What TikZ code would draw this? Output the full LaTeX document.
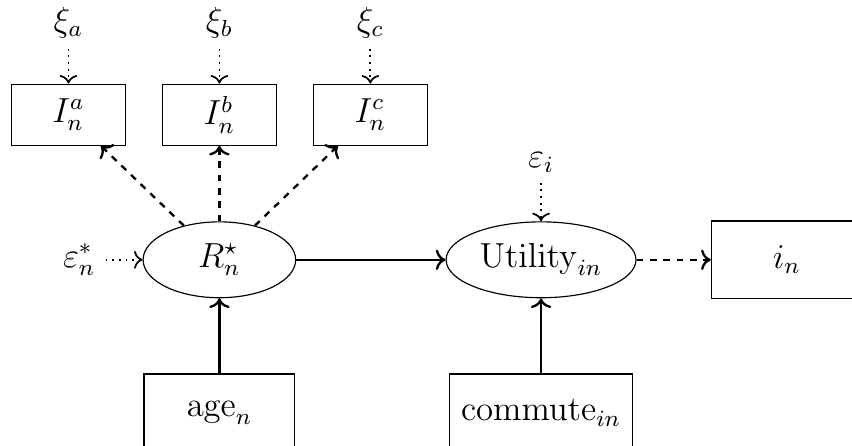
\documentclass[tikz,border=0pt]{standalone}
\usetikzlibrary{arrows.meta,shapes.geometric}
\tikzset{
    box/.style={draw, minimum width=1.38cm, minimum height=0.74cm,
                inner sep=4pt, align=center},
    obs/.style={box, minimum width=1.83cm, minimum height=0.94cm},
    latent/.style={ellipse, draw, minimum height=0.92cm, inner sep=2pt},
    flow/.style={->, thick},
    measure/.style={flow, dash pattern=on 2.3pt off 2.3pt},
    noise/.style={->, semithick, dash pattern=on 0.6pt off 1.7pt},
}
\begin{document}
\begin{tikzpicture}[font=\large]

    \useasboundingbox (-2.66,-2.254) rectangle (7.67,3.15);

    \node[latent, minimum width=1.85cm] (R) at (0,0) {$R^{\star}_n$};
    \node[latent, minimum width=2.29cm] (U) at (3.9,0) {$\mathrm{Utility}_{in}$};
    \node[obs] (choice) at (6.88,0) {$i_n$};

    \node[box] (Ia) at (-1.83,1.76) {$I^a_n$};
    \node[box] (Ib) at (0,1.76) {$I^b_n$};
    \node[box] (Ic) at (1.83,1.76) {$I^c_n$};

    \node (xia) at (-1.83,2.87) {$\xi_a$};
    \node (xib) at (0,2.87) {$\xi_b$};
    \node (xic) at (1.83,2.87) {$\xi_c$};

    \node (epsR) at (-1.70,0) {$\varepsilon^*_n$};
    \node (epsU) at (3.9,1.18) {$\varepsilon_i$};

    \node[obs] (age) at (0,-1.855) {$\mathrm{age}_n$};
    \node[obs, minimum width=2.02cm] (commute) at (3.9,-1.855) {$\mathrm{commute}_{in}$};

    \draw[noise] (xia) -- (Ia);
    \draw[noise] (xib) -- (Ib);
    \draw[noise] (xic) -- (Ic);
    \draw[noise] (epsR) -- (R);
    \draw[noise] (epsU) -- (U);

    \draw[measure] (R) -- (Ia);
    \draw[measure] (R) -- (Ib);
    \draw[measure] (R) -- (Ic);
    \draw[measure] (U) -- (choice);

    \draw[flow] (R) -- (U);
    \draw[flow] (age) -- (R);
    \draw[flow] (commute) -- (U);

\end{tikzpicture}
\end{document}
